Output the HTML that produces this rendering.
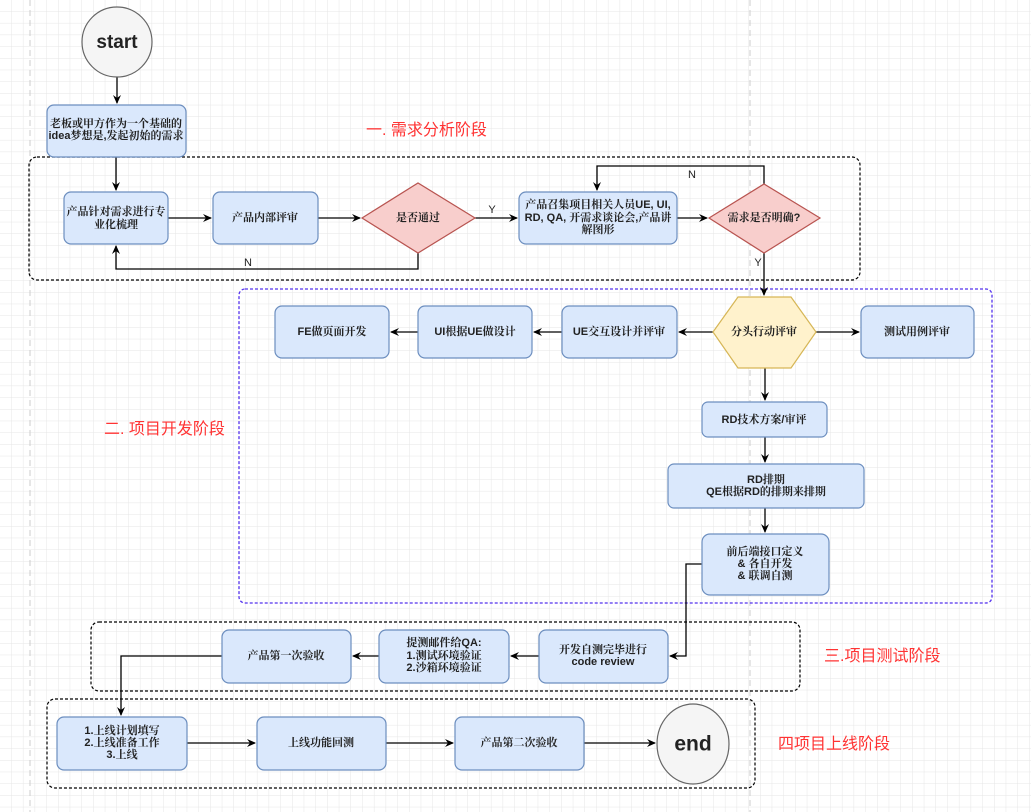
<!DOCTYPE html>
<html><head><meta charset="utf-8"><style>
html,body{margin:0;padding:0;background:#fff}
svg{display:block}
text{font-family:"Liberation Sans","Noto Serif CJK SC",serif;font-size:11px;font-weight:bold;fill:#222;text-anchor:middle;dominant-baseline:middle}
.b{fill:#dae8fc;stroke:#6c8ebf;stroke-width:1.2}
.l{fill:none;stroke:#000;stroke-width:1.3}
.red{fill:#ff3333;font-family:"Liberation Sans","Noto Sans CJK SC",sans-serif;font-size:16px;font-weight:normal;text-anchor:start}
.lab{font-family:"Liberation Sans",sans-serif;font-weight:normal;font-size:11px}
</style></head><body>
<svg width="1031" height="812" viewBox="0 0 1031 812">
<defs>
<pattern id="g" width="11.7" height="11.7" patternUnits="userSpaceOnUse"><path d="M11.7 0V11.7H0" fill="none" stroke="#e6e6e6" stroke-width="1"/></pattern>
<marker id="a" markerWidth="10" markerHeight="10" refX="8" refY="5" orient="auto" markerUnits="userSpaceOnUse"><path d="M0 1L9 5L0 9L3 5Z" fill="#000"/></marker>
</defs>
<rect width="1031" height="812" fill="url(#g)"/>
<line x1="30" y1="0" x2="30" y2="812" stroke="#ccc" stroke-dasharray="6 4"/>
<line x1="750" y1="0" x2="750" y2="812" stroke="#ccc" stroke-dasharray="6 4"/>

<rect x="29" y="157" width="831" height="123" rx="8" fill="none" stroke="#000" stroke-dasharray="3 2" stroke-width="1.2"/>
<rect x="239" y="289" width="753" height="314" rx="6" fill="none" stroke="#5533ee" stroke-dasharray="3 2" stroke-width="1.3"/>
<rect x="91" y="622" width="709" height="69" rx="8" fill="none" stroke="#000" stroke-dasharray="3 2" stroke-width="1.2"/>
<rect x="47" y="699" width="708" height="89" rx="8" fill="none" stroke="#000" stroke-dasharray="3 2" stroke-width="1.2"/>

<text class="red" x="366" y="131">一. 需求分析阶段</text>
<text class="red" x="104" y="430">二. 项目开发阶段</text>
<text class="red" x="824" y="657">三.项目测试阶段</text>
<text class="red" x="778" y="745">四项目上线阶段</text>

<path class="l" d="M117 77V103" marker-end="url(#a)"/>
<path class="l" d="M116 157V190" marker-end="url(#a)"/>
<path class="l" d="M168 218H211" marker-end="url(#a)"/>
<path class="l" d="M318 218H360" marker-end="url(#a)"/>
<path class="l" d="M475 218H517" marker-end="url(#a)"/>
<path class="l" d="M677 218H707" marker-end="url(#a)"/>
<path class="l" d="M418 253V269H116V246" marker-end="url(#a)"/>
<path class="l" d="M764 184V166H597V190" marker-end="url(#a)"/>
<path class="l" d="M764 253V295" marker-end="url(#a)"/>
<path class="l" d="M816 332H859" marker-end="url(#a)"/>
<path class="l" d="M713 332H679" marker-end="url(#a)"/>
<path class="l" d="M562 332H534" marker-end="url(#a)"/>
<path class="l" d="M418 332H391" marker-end="url(#a)"/>
<path class="l" d="M765 368V400" marker-end="url(#a)"/>
<path class="l" d="M765 437V462" marker-end="url(#a)"/>
<path class="l" d="M765 508V532" marker-end="url(#a)"/>
<path class="l" d="M702 564H686V656H670" marker-end="url(#a)"/>
<path class="l" d="M539 656H511" marker-end="url(#a)"/>
<path class="l" d="M379 656H353" marker-end="url(#a)"/>
<path class="l" d="M222 656H121V715" marker-end="url(#a)"/>
<path class="l" d="M187 743H255" marker-end="url(#a)"/>
<path class="l" d="M386 743H453" marker-end="url(#a)"/>
<path class="l" d="M584 743H655" marker-end="url(#a)"/>
<text class="lab" x="492" y="210">Y</text>
<text class="lab" x="248" y="263">N</text>
<text class="lab" x="692" y="175">N</text>
<text class="lab" x="758" y="263">Y</text>

<circle cx="117" cy="42" r="35" fill="#f5f5f5" stroke="#666" stroke-width="1.2"/>
<text x="117" y="43" style="font-size:19px;font-family:'Liberation Sans',sans-serif">start</text>
<ellipse cx="693" cy="744" rx="36" ry="40" fill="#f5f5f5" stroke="#666" stroke-width="1.2"/>
<text x="693" y="745" style="font-size:21px;font-family:'Liberation Sans',sans-serif">end</text>

<rect class="b" x="47" y="105" width="139" height="52" rx="7"/>
<text x="116" y="124">老板或甲方作为一个基础的</text><text x="116" y="136">idea梦想是,发起初始的需求</text>
<rect class="b" x="64" y="192" width="104" height="52" rx="7"/>
<text x="116" y="212">产品针对需求进行专</text><text x="116" y="225">业化梳理</text>
<rect class="b" x="213" y="192" width="105" height="52" rx="7"/>
<text x="265" y="218">产品内部评审</text>
<polygon points="362,218 418,183 475,218 418,253" fill="#f8cecc" stroke="#b85450" stroke-width="1.2"/>
<text x="418" y="218">是否通过</text>
<rect class="b" x="519" y="192" width="158" height="52" rx="7"/>
<text x="598" y="205">产品召集项目相关人员UE, UI,</text><text x="598" y="218">RD, QA, 开需求谈论会,产品讲</text><text x="598" y="230">解图形</text>
<polygon points="709,218 764,184 820,218 764,253" fill="#f8cecc" stroke="#b85450" stroke-width="1.2"/>
<text x="764" y="218">需求是否明确?</text>

<polygon points="713,332 738,297 791,297 816,332 791,368 738,368" fill="#fff2cc" stroke="#d6b656" stroke-width="1.2"/>
<text x="764" y="332">分头行动评审</text>
<rect class="b" x="861" y="306" width="113" height="52" rx="7"/><text x="917" y="332">测试用例评审</text>
<rect class="b" x="562" y="306" width="115" height="52" rx="7"/><text x="619" y="332">UE交互设计并评审</text>
<rect class="b" x="418" y="306" width="114" height="52" rx="7"/><text x="475" y="332">UI根据UE做设计</text>
<rect class="b" x="275" y="306" width="114" height="52" rx="7"/><text x="332" y="332">FE做页面开发</text>
<rect class="b" x="702" y="402" width="125" height="35" rx="6"/><text x="764" y="420">RD技术方案/审评</text>
<rect class="b" x="668" y="464" width="196" height="44" rx="6"/><text x="766" y="480">RD排期</text><text x="766" y="492">QE根据RD的排期来排期</text>
<rect class="b" x="702" y="534" width="127" height="61" rx="8"/>
<text x="765" y="552">前后端接口定义</text><text x="765" y="564">&amp; 各自开发</text><text x="765" y="576">&amp; 联调自测</text>

<rect class="b" x="539" y="630" width="129" height="53" rx="7"/><text x="603" y="650">开发自测完毕进行</text><text x="603" y="662">code review</text>
<rect class="b" x="379" y="630" width="130" height="53" rx="7"/><text x="444" y="643">提测邮件给QA:</text><text x="444" y="656">1.测试环境验证</text><text x="444" y="668">2.沙箱环境验证</text>
<rect class="b" x="222" y="630" width="129" height="53" rx="7"/><text x="286" y="656">产品第一次验收</text>
<rect class="b" x="57" y="717" width="130" height="53" rx="7"/><text x="122" y="731">1.上线计划填写</text><text x="122" y="743">2.上线准备工作</text><text x="122" y="755">3.上线</text>
<rect class="b" x="257" y="717" width="129" height="53" rx="7"/><text x="321" y="743">上线功能回测</text>
<rect class="b" x="455" y="717" width="129" height="53" rx="7"/><text x="519" y="743">产品第二次验收</text>
</svg>
</body></html>
